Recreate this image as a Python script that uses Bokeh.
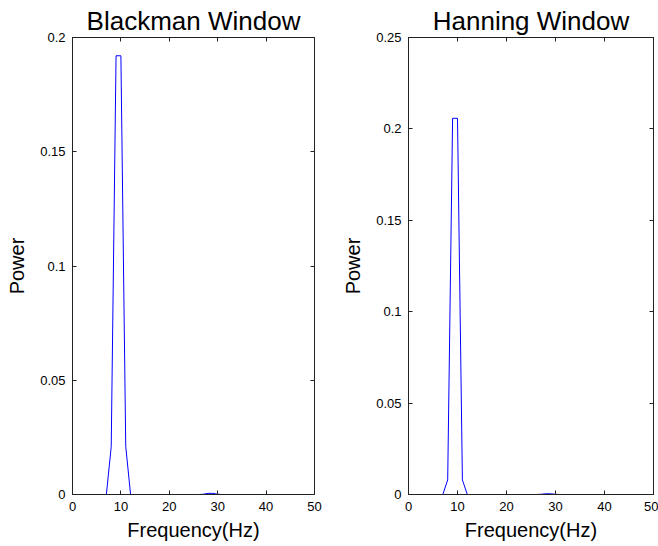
from bokeh.plotting import figure
from bokeh.layouts import row
from bokeh.models import Range1d, LinearAxis, FixedTicker
from bokeh.embed import file_html
from bokeh.resources import INLINE

freq = [0, 1, 2, 3, 4, 5, 6, 7, 8, 9, 10, 11, 12, 13, 14, 15, 16, 17, 18, 19, 20,
        21, 22, 23, 24, 25, 26, 27, 28, 29, 30, 31, 32, 33, 34, 35, 36, 37, 38, 39, 40,
        41, 42, 43, 44, 45, 46, 47, 48, 49, 50]
blackman_power = [0, 0, 0, 0, 0, 0, 0, 0, 0.021, 0.192, 0.192, 0.021, 0, 0, 0, 0, 0, 0, 0, 0, 0,
                  0, 0, 0, 0, 0, 0, 0.0001, 0.0005, 0.0005, 0.0001, 0, 0, 0, 0, 0, 0, 0, 0, 0, 0,
                  0, 0, 0, 0, 0, 0, 0, 0, 0, 0]
hanning_power = [0, 0, 0, 0, 0, 0, 0, 0, 0.008, 0.2058, 0.2058, 0.008, 0, 0, 0, 0, 0, 0, 0, 0, 0,
                 0, 0, 0, 0, 0, 0, 0.0001, 0.0004, 0.0004, 0.0001, 0, 0, 0, 0, 0, 0, 0, 0, 0, 0,
                 0, 0, 0, 0, 0, 0, 0, 0, 0, 0]
x_ticks = [0, 10, 20, 30, 40, 50]
black_y_ticks = [0, 0.05, 0.1, 0.15, 0.2]
black_y_labels = ["0", "0.05", "0.1", "0.15", "0.2"]
hann_y_ticks = [0, 0.05, 0.1, 0.15, 0.2, 0.25]
hann_y_labels = ["0", "0.05", "0.1", "0.15", "0.2", "0.25"]
titles = ["Blackman Window", "Hanning Window"]
x_label = "Frequency(Hz)"
y_label = "Power"

FONT = "Liberation Sans"
AXC = "#222222"


def style_axis(ax, ticks, show_labels):
    ax.axis_line_color = AXC
    ax.major_tick_line_color = AXC
    ax.major_tick_in = 4
    ax.major_tick_out = 0
    ax.minor_tick_line_color = None
    ax.major_label_text_font = FONT
    ax.major_label_text_color = "#000000"
    if show_labels:
        ax.major_label_text_font_size = "13px"
        ax.major_label_standoff = 7
    else:
        ax.major_label_text_font_size = "1px"
        ax.major_label_standoff = 0
        ax.major_label_overrides = {t: "" for t in ticks}


def make(title, ys, ymax, yticks, ylabels, bl, br):
    p = figure(width=329, height=546, output_backend="svg", toolbar_location=None,
               x_range=Range1d(0, 50), y_range=Range1d(0, ymax),
               min_border_left=bl, min_border_right=br, min_border_top=37,
               min_border_bottom=52, x_axis_location=None, y_axis_location=None)
    p.background_fill_color = "white"
    p.border_fill_color = "white"
    p.outline_line_color = AXC
    p.xgrid.visible = False
    p.ygrid.visible = False
    p.title.text = title
    p.title.text_font = FONT
    p.title.text_font_size = "26px"
    p.title.text_font_style = "normal"
    p.title.text_color = "#000000"
    p.title.align = "center"
    p.title.standoff = 3

    xb = LinearAxis(ticker=FixedTicker(ticks=x_ticks), axis_label=x_label)
    style_axis(xb, x_ticks, True)
    xb.axis_label_text_font = FONT
    xb.axis_label_text_font_size = "20px"
    xb.axis_label_text_font_style = "normal"
    xb.axis_label_text_color = "#000000"
    xb.axis_label_standoff = 5
    p.add_layout(xb, "below")

    xt = LinearAxis(ticker=FixedTicker(ticks=x_ticks))
    style_axis(xt, x_ticks, False)
    p.add_layout(xt, "above")

    yl = LinearAxis(ticker=FixedTicker(ticks=yticks), axis_label=y_label)
    style_axis(yl, yticks, True)
    yl.major_label_overrides = {t: l for t, l in zip(yticks, ylabels)}
    yl.axis_label_text_font = FONT
    yl.axis_label_text_font_size = "20px"
    yl.axis_label_text_font_style = "normal"
    yl.axis_label_text_color = "#000000"
    yl.axis_label_standoff = 9
    p.add_layout(yl, "left")

    yr = LinearAxis(ticker=FixedTicker(ticks=yticks))
    style_axis(yr, yticks, False)
    p.add_layout(yr, "right")

    p.line(freq, ys, line_color="#0000ff", line_width=1)
    return p


p1 = make(titles[0], blackman_power, 0.2, black_y_ticks, black_y_labels, 72, 15)
p2 = make(titles[1], hanning_power, 0.25, hann_y_ticks, hann_y_labels, 79, 5)
layout = row(p1, p2)
open("out.html", "w").write(file_html(layout, INLINE))
